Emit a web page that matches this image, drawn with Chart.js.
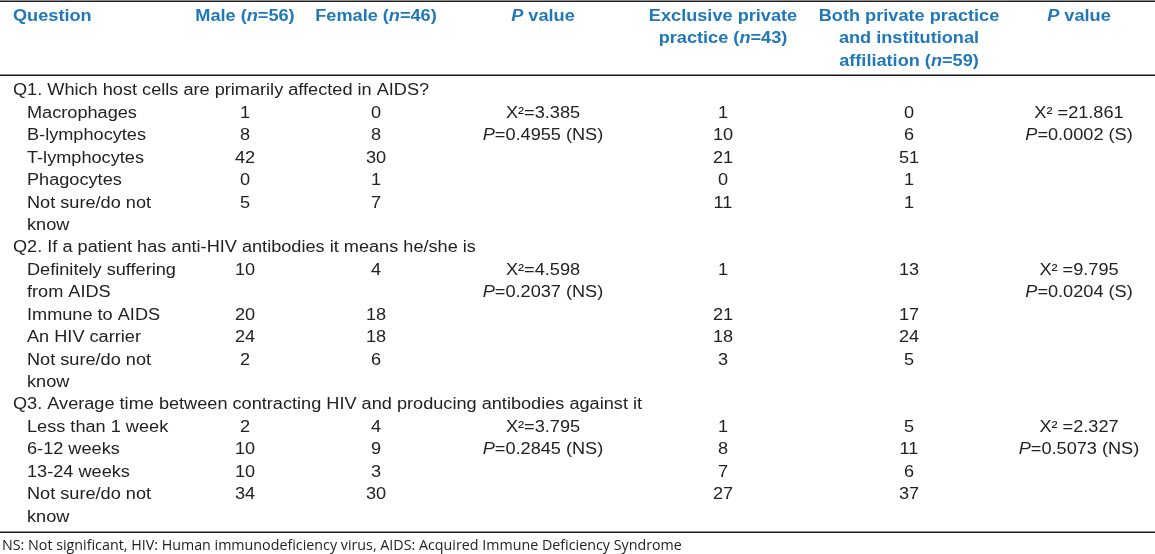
<!DOCTYPE html>
<html>
<head>
<meta charset="utf-8">
<script src="https://cdn.jsdelivr.net/npm/chart.js@4"></script>
<style>
  body { margin: 0; background: #fff; }
  #wrap { width: 1155px; height: 554px; position: relative; }
</style>
</head>
<body>
<div id="wrap"><canvas id="tableChart"></canvas></div>
<script>
// --- table data (text marked with *...* is italic) ---
const headers = [
  'Question',
  'Male (*n*=56)',
  'Female (*n*=46)',
  '*P* value',
  'Exclusive private\npractice (*n*=43)',
  'Both private practice\nand institutional\naffiliation (*n*=59)',
  '*P* value',
];

const questions = [
  'Q1. Which host cells are primarily affected in AIDS?',
  'Q2. If a patient has anti-HIV antibodies it means he/she is',
  'Q3. Average time between contracting HIV and producing antibodies against it',
];

const q1Options = ['Macrophages', 'B-lymphocytes', 'T-lymphocytes', 'Phagocytes', 'Not sure/do not\nknow'];
const q1Male = [1, 8, 42, 0, 5];
const q1Female = [0, 8, 30, 1, 7];
const q1Exclusive = [1, 10, 21, 0, 11];
const q1Both = [0, 6, 51, 1, 1];

const q2Options = ['Definitely suffering\nfrom AIDS', 'Immune to AIDS', 'An HIV carrier', 'Not sure/do not\nknow'];
const q2Male = [10, 20, 24, 2];
const q2Female = [4, 18, 18, 6];
const q2Exclusive = [1, 21, 18, 3];
const q2Both = [13, 17, 24, 5];

const q3Options = ['Less than 1 week', '6-12 weeks', '13-24 weeks', 'Not sure/do not\nknow'];
const q3Male = [2, 10, 10, 34];
const q3Female = [4, 9, 3, 30];
const q3Exclusive = [1, 8, 7, 27];
const q3Both = [5, 11, 6, 37];

const genderStats = [
  ['X²=3.385', '*P*=0.4955 (NS)'],
  ['X²=4.598', '*P*=0.2037 (NS)'],
  ['X²=3.795', '*P*=0.2845 (NS)'],
];
const practiceStats = [
  ['X² =21.861', '*P*=0.0002 (S)'],
  ['X² =9.795', '*P*=0.0204 (S)'],
  ['X² =2.327', '*P*=0.5073 (NS)'],
];

const footnote = 'NS: Not significant, HIV: Human immunodeficiency virus, AIDS: Acquired Immune Deficiency Syndrome';

// --- layout (table units) ---
const TABLE_W = 1155;
const COL_X = [13, 245, 376, 543, 723, 909, 1079];   // question col is left edge, others centres
const OPTION_X = 27;
const LINE_PX = 22.43;                 // one text line in px
const Y_MIN = -16.5 / LINE_PX;         // line 0 centre sits ~16px down
const Y_MAX = Y_MIN + 554 / LINE_PX;
const BODY_START = 3.32;               // first body line, in line units
const RULES = [-0.69, 2.61, 22.98];
const FOOT_LINE = 23.6;
const STRETCH = 1.134;                 // source glyphs are wider than plain Arial

const BLUE = '#1e78b9';
const INK = '#222222';
const FONT = '"Liberation Sans", Arial, sans-serif';

// --- build datasets ---
const blocks = [
  { opts: q1Options, cols: [q1Male, q1Female, q1Exclusive, q1Both] },
  { opts: q2Options, cols: [q2Male, q2Female, q2Exclusive, q2Both] },
  { opts: q3Options, cols: [q3Male, q3Female, q3Exclusive, q3Both] },
];

function textSet(align, bold, color) {
  return { data: [], texts: [], align, bold, color, family: FONT, px: 16, stretch: STRETCH,
           pointRadius: 0, showLine: false };
}

const headSet = textSet(null, true, BLUE);
const questionSet = textSet('left', false, INK);
const optionSet = textSet('left', false, INK);
const numSets = [1, 2, 4, 5].map(() => textSet('center', false, INK));
const statSets = [textSet('center', false, INK), textSet('center', false, INK)];
const footSet = textSet('left', false, INK);
footSet.family = '"Open Sans", "DejaVu Sans", sans-serif';
footSet.px = 14;
footSet.stretch = 1.02;

headSet.aligns = [];
headers.forEach((h, c) => {
  h.split('\n').forEach((ln, k) => {
    headSet.data.push({ x: COL_X[c], y: k });
    headSet.texts.push(ln);
    headSet.aligns.push(c === 0 ? 'left' : 'center');
  });
});

let line = BODY_START;
blocks.forEach((b, q) => {
  questionSet.data.push({ x: COL_X[0], y: line });
  questionSet.texts.push(questions[q]);
  line += 1;
  const firstLines = [];
  b.opts.forEach((opt, i) => {
    firstLines.push(line);
    const parts = opt.split('\n');
    parts.forEach((p, k) => {
      optionSet.data.push({ x: OPTION_X, y: line + k });
      optionSet.texts.push(p);
    });
    b.cols.forEach((vals, c) => {
      numSets[c].data.push({ x: COL_X[[1, 2, 4, 5][c]], y: line });
      numSets[c].texts.push(String(vals[i]));
    });
    line += parts.length;
  });
  [genderStats[q], practiceStats[q]].forEach((st, s) => {
    st.forEach((t, k) => {
      statSets[s].data.push({ x: COL_X[s === 0 ? 3 : 6], y: firstLines[0] + k });
      statSets[s].texts.push(t);
    });
  });
});

footSet.data.push({ x: 2, y: FOOT_LINE });
footSet.texts.push(footnote);

const datasets = [headSet, questionSet, optionSet, ...numSets, ...statSets, footSet];

// --- drawing helpers ---
function fontFor(ds, italic) {
  return (italic ? 'italic ' : '') + (ds.bold ? 'bold ' : '') + ds.px + 'px ' + ds.family;
}

function drawRich(ctx, ds, text, x, y, align) {
  const segs = text.split('*');
  let w = 0;
  segs.forEach((s, i) => { ctx.font = fontFor(ds, i % 2 === 1); w += ctx.measureText(s).width; });
  const left = align === 'center' ? x - w * ds.stretch / 2 : x;
  ctx.save();
  ctx.translate(left, y);
  ctx.scale(ds.stretch, 1);
  ctx.fillStyle = ds.color;
  ctx.textBaseline = 'middle';
  ctx.textAlign = 'left';
  let cx = 0;
  segs.forEach((s, i) => {
    ctx.font = fontFor(ds, i % 2 === 1);
    ctx.fillText(s, cx, 0);
    cx += ctx.measureText(s).width;
  });
  ctx.restore();
}

const tablePlugin = {
  id: 'tablePlugin',
  beforeDatasetsDraw(chart) {
    const ctx = chart.ctx;
    const ys = chart.scales.y;
    ctx.save();
    ctx.strokeStyle = '#1a1a1a';
    ctx.lineWidth = 1.5;
    RULES.forEach(r => {
      const py = Math.round(ys.getPixelForValue(r)) + 0.25;
      ctx.beginPath();
      ctx.moveTo(0, py);
      ctx.lineTo(chart.width, py);
      ctx.stroke();
    });
    ctx.restore();
  },
  afterDatasetsDraw(chart) {
    const ctx = chart.ctx;
    ctx.save();
    chart.data.datasets.forEach((ds, di) => {
      chart.getDatasetMeta(di).data.forEach((el, i) => {
        const align = ds.aligns ? ds.aligns[i] : ds.align;
        drawRich(ctx, ds, ds.texts[i], el.x, el.y, align);
      });
    });
    ctx.restore();
  }
};

new Chart('tableChart', {
  type: 'scatter',
  data: { datasets },
  options: {
    responsive: true,
    maintainAspectRatio: false,
    animation: false,
    layout: { padding: 0 },
    plugins: { legend: { display: false }, tooltip: { enabled: false } },
    scales: {
      x: { type: 'linear', display: false, min: 0, max: TABLE_W },
      y: { type: 'linear', display: false, min: Y_MIN, max: Y_MAX, reverse: true },
    },
  },
  plugins: [tablePlugin],
});
</script>
</body>
</html>
